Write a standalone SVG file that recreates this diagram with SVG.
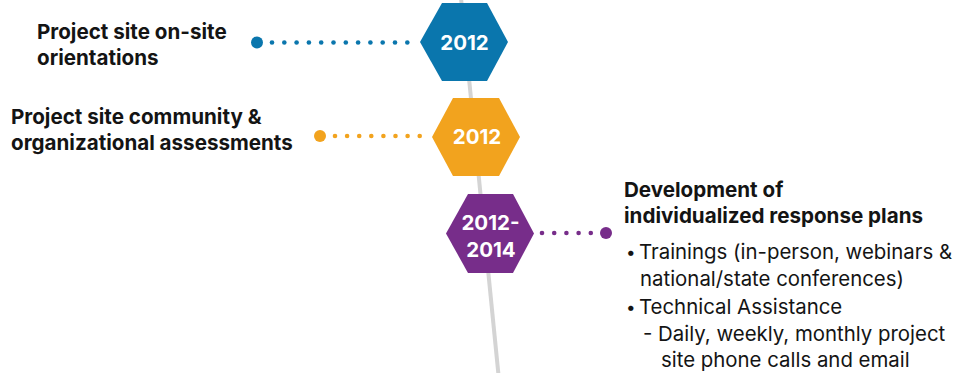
<svg xmlns="http://www.w3.org/2000/svg" width="956" height="373" viewBox="0 0 956 373">
<style>
.lbl{font-family:Inter,"Liberation Sans",sans-serif;font-weight:bold;font-size:20.6px;fill:#141414}
.body{font-family:Inter,"Liberation Sans",sans-serif;font-size:20.4px;fill:#141414}
.bul{font-size:17px}
.yr{font-family:Inter,"Liberation Sans",sans-serif;font-weight:bold;font-size:20.5px;fill:#fff;text-anchor:middle}
.blue{fill:#0a76ad}.orange{fill:#f2a31e}.purple{fill:#772d8a}
</style>
<rect width="956" height="373" fill="#fff"/>
<line x1="461" y1="-2" x2="498.5" y2="375" stroke="#d4d4d4" stroke-width="4"/>
<g id="connectors">
<g class="blue"><circle cx="257" cy="42.5" r="6"/>
<circle cx="272" cy="42.5" r="2.3"/><circle cx="284.3" cy="42.5" r="2.3"/><circle cx="296.6" cy="42.5" r="2.3"/><circle cx="308.9" cy="42.5" r="2.3"/><circle cx="321.2" cy="42.5" r="2.3"/><circle cx="333.5" cy="42.5" r="2.3"/><circle cx="345.8" cy="42.5" r="2.3"/><circle cx="358.1" cy="42.5" r="2.3"/><circle cx="370.4" cy="42.5" r="2.3"/><circle cx="382.7" cy="42.5" r="2.3"/><circle cx="395" cy="42.5" r="2.3"/><circle cx="407.3" cy="42.5" r="2.3"/></g>
<g class="orange"><circle cx="320" cy="136" r="6"/>
<circle cx="335" cy="136" r="2.3"/><circle cx="347.1" cy="136" r="2.3"/><circle cx="359.2" cy="136" r="2.3"/><circle cx="371.3" cy="136" r="2.3"/><circle cx="383.4" cy="136" r="2.3"/><circle cx="395.5" cy="136" r="2.3"/><circle cx="407.6" cy="136" r="2.3"/><circle cx="419.7" cy="136" r="2.3"/></g>
<g class="purple"><circle cx="606" cy="233" r="6"/>
<circle cx="542" cy="233" r="2.3"/><circle cx="554.2" cy="233" r="2.3"/><circle cx="566.4" cy="233" r="2.3"/><circle cx="578.6" cy="233" r="2.3"/><circle cx="590.8" cy="233" r="2.3"/></g>
</g>
<g id="node-2012a">
<polygon class="blue" points="420,42 442,3 487,3 508,42 487,81 442,81"/>
<text class="yr" x="464.5" y="50">2012</text>
<text class="lbl" x="37" y="39">Project site on-site</text>
<text class="lbl" x="37" y="65">orientations</text>
</g>
<g id="node-2012b">
<polygon class="orange" points="432,137 453,98 499,98 520,137 499,176 453,176"/>
<text class="yr" x="477" y="144">2012</text>
<text class="lbl" x="11" y="124">Project site community &amp;</text>
<text class="lbl" x="11" y="150">organizational assessments</text>
</g>
<g id="node-2012-2014">
<polygon class="purple" points="446,233.5 468,194 513,194 534,233.5 513,273 468,273"/>
<text class="yr" x="490.5" y="230">2012-</text>
<text class="yr" x="491" y="257">2014</text>
<text class="lbl" x="624" y="197">Development of</text>
<text class="lbl" x="624" y="223">individualized response plans</text>
<text class="body" x="626" y="259"><tspan class="bul" dy="-1">•</tspan><tspan x="639" dy="1">Trainings (in-person, webinars &amp;</tspan></text>
<text class="body" x="640" y="286">national/state conferences)</text>
<text class="body" x="626" y="313.5"><tspan class="bul" dy="-1">•</tspan><tspan x="639" dy="1">Technical Assistance</tspan></text>
<text class="body" x="643" y="340.5">- Daily, weekly, monthly project</text>
<text class="body" x="661" y="367">site phone calls and email</text>
</g>
</svg>
